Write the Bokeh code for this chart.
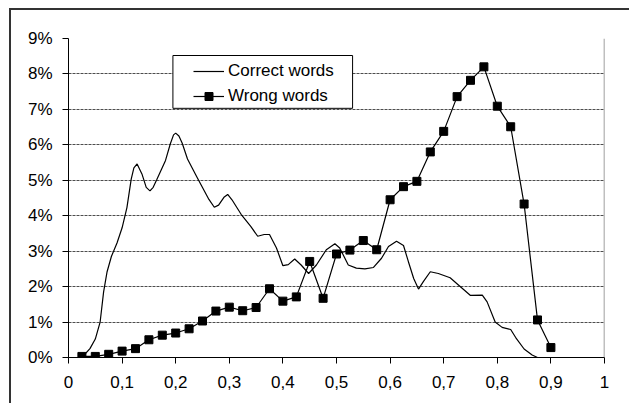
from bokeh.plotting import figure
from bokeh.models import FixedTicker, Span, Legend, LegendItem, BoxAnnotation
from bokeh.embed import file_html
from bokeh.resources import INLINE

# ---- data (fraction of words, in %) ----
x_ticks = [0, 0.1, 0.2, 0.3, 0.4, 0.5, 0.6, 0.7, 0.8, 0.9, 1]
x_tick_labels = ["0", "0,1", "0,2", "0,3", "0,4", "0,5", "0,6", "0,7", "0,8", "0,9", "1"]
y_ticks = [0, 1, 2, 3, 4, 5, 6, 7, 8, 9]
y_tick_labels = ["0%", "1%", "2%", "3%", "4%", "5%", "6%", "7%", "8%", "9%"]

wrong_x = [0.025, 0.05, 0.075, 0.1, 0.125, 0.15, 0.175, 0.2, 0.225, 0.25, 0.275, 0.3,
           0.325, 0.35, 0.375, 0.4, 0.425, 0.45, 0.475, 0.5, 0.525, 0.55, 0.575, 0.6,
           0.625, 0.65, 0.675, 0.7, 0.725, 0.75, 0.775, 0.8, 0.825, 0.85, 0.875, 0.9]
wrong_y = [0.03, 0.03, 0.09, 0.18, 0.25, 0.50, 0.63, 0.69, 0.81, 1.03, 1.31, 1.42,
           1.32, 1.41, 1.94, 1.59, 1.71, 2.71, 1.67, 2.92, 3.03, 3.30, 3.04, 4.45,
           4.82, 4.97, 5.80, 6.38, 7.36, 7.82, 8.20, 7.09, 6.51, 4.33, 1.06, 0.28]

correct_x = [0.025, 0.04, 0.05, 0.059, 0.0655, 0.072, 0.08, 0.0905, 0.1, 0.109, 0.117,
             0.122, 0.128, 0.137, 0.145, 0.152, 0.158, 0.165, 0.181, 0.19, 0.196, 0.2,
             0.206, 0.212, 0.222, 0.24, 0.262, 0.272, 0.28, 0.29, 0.297, 0.305, 0.322,
             0.34, 0.353, 0.365, 0.375, 0.388, 0.40, 0.41, 0.422, 0.434, 0.448, 0.4625,
             0.481, 0.497, 0.506, 0.522, 0.537, 0.553, 0.569, 0.584, 0.597, 0.612,
             0.625, 0.634, 0.644, 0.653, 0.662, 0.675, 0.69, 0.712, 0.728, 0.75,
             0.772, 0.781, 0.796, 0.809, 0.825, 0.834, 0.85, 0.865, 0.875]
correct_y = [0.0, 0.25, 0.52, 1.0, 1.85, 2.42, 2.85, 3.23, 3.66, 4.23, 5.03,
             5.35, 5.46, 5.18, 4.80, 4.70, 4.80, 5.03, 5.56, 6.03, 6.28, 6.33,
             6.25, 6.05, 5.60, 5.08, 4.46, 4.24, 4.30, 4.52, 4.60, 4.45, 4.04,
             3.70, 3.42, 3.47, 3.47, 3.09, 2.59, 2.62, 2.78, 2.61, 2.37, 2.61,
             3.04, 3.21, 3.09, 2.61, 2.52, 2.50, 2.54, 2.80, 3.13, 3.28,
             3.16, 2.71, 2.23, 1.93, 2.14, 2.42, 2.37, 2.25, 2.04, 1.75,
             1.76, 1.57, 1.00, 0.85, 0.79, 0.57, 0.24, 0.07, 0.0]

FONT = "Liberation Sans"
FS = "17px"

p = figure(width=620, height=395, x_range=(0, 1), y_range=(0, 9),
           output_backend="svg", toolbar_location=None,
           min_border_left=57, min_border_right=27, min_border_top=28, min_border_bottom=48)
p.margin = (8, 0, 0, 9)
p.styles = {"border-top": "2px solid #333333", "border-left": "2px solid #333333"}
p.outline_line_color = None
p.background_fill_color = "white"
p.border_fill_color = "white"

# axes
for ax in (p.xaxis[0], p.yaxis[0]):
    ax.axis_line_color = "black"
    ax.axis_line_width = 1
    ax.major_tick_line_color = "black"
    ax.major_tick_in = 0
    ax.major_tick_out = 6
    ax.minor_tick_line_color = None
    ax.major_label_text_font = FONT
    ax.major_label_text_font_size = FS
    ax.major_label_text_color = "black"

p.xaxis.ticker = FixedTicker(ticks=x_ticks)
p.xaxis.major_label_overrides = dict(zip(x_ticks, x_tick_labels))
p.xaxis.major_label_standoff = 12
p.yaxis.ticker = FixedTicker(ticks=y_ticks)
p.yaxis.major_label_overrides = dict(zip(y_ticks, y_tick_labels))
p.yaxis.major_label_standoff = 10

p.xgrid.grid_line_color = None
p.ygrid.ticker = FixedTicker(ticks=y_ticks)
p.ygrid.grid_line_color = "#4d4d4d"
p.ygrid.grid_line_dash = "3 1"
p.ygrid.grid_line_width = 1

p.add_layout(Span(location=1, dimension="height", line_color="#808080", line_width=1.5))

r_correct = p.line(correct_x, correct_y, line_color="black", line_width=1.2)
r_wrong_line = p.line(wrong_x, wrong_y, line_color="black", line_width=1.2)
r_wrong_pts = p.scatter(wrong_x, wrong_y, marker="square", size=8,
                        fill_color="black", line_color="black")

# legend frame
box = BoxAnnotation(left=0.1948, right=0.530, bottom=7.03, top=8.52,
                    fill_color="white", fill_alpha=1.0,
                    line_color="black", line_width=1, line_alpha=1.0)
p.add_layout(box)

legend = Legend(items=[LegendItem(label="Correct words", renderers=[r_correct]),
                       LegendItem(label="Wrong words", renderers=[r_wrong_line, r_wrong_pts])],
                location=(125, 251), padding=4, spacing=5, margin=0,
                glyph_width=31, glyph_height=20, label_height=20, label_standoff=4,
                label_text_font=FONT, label_text_font_size=FS, label_text_color="black",
                border_line_color=None, background_fill_alpha=0)
p.add_layout(legend)

open("out.html", "w").write(file_html(p, INLINE))
